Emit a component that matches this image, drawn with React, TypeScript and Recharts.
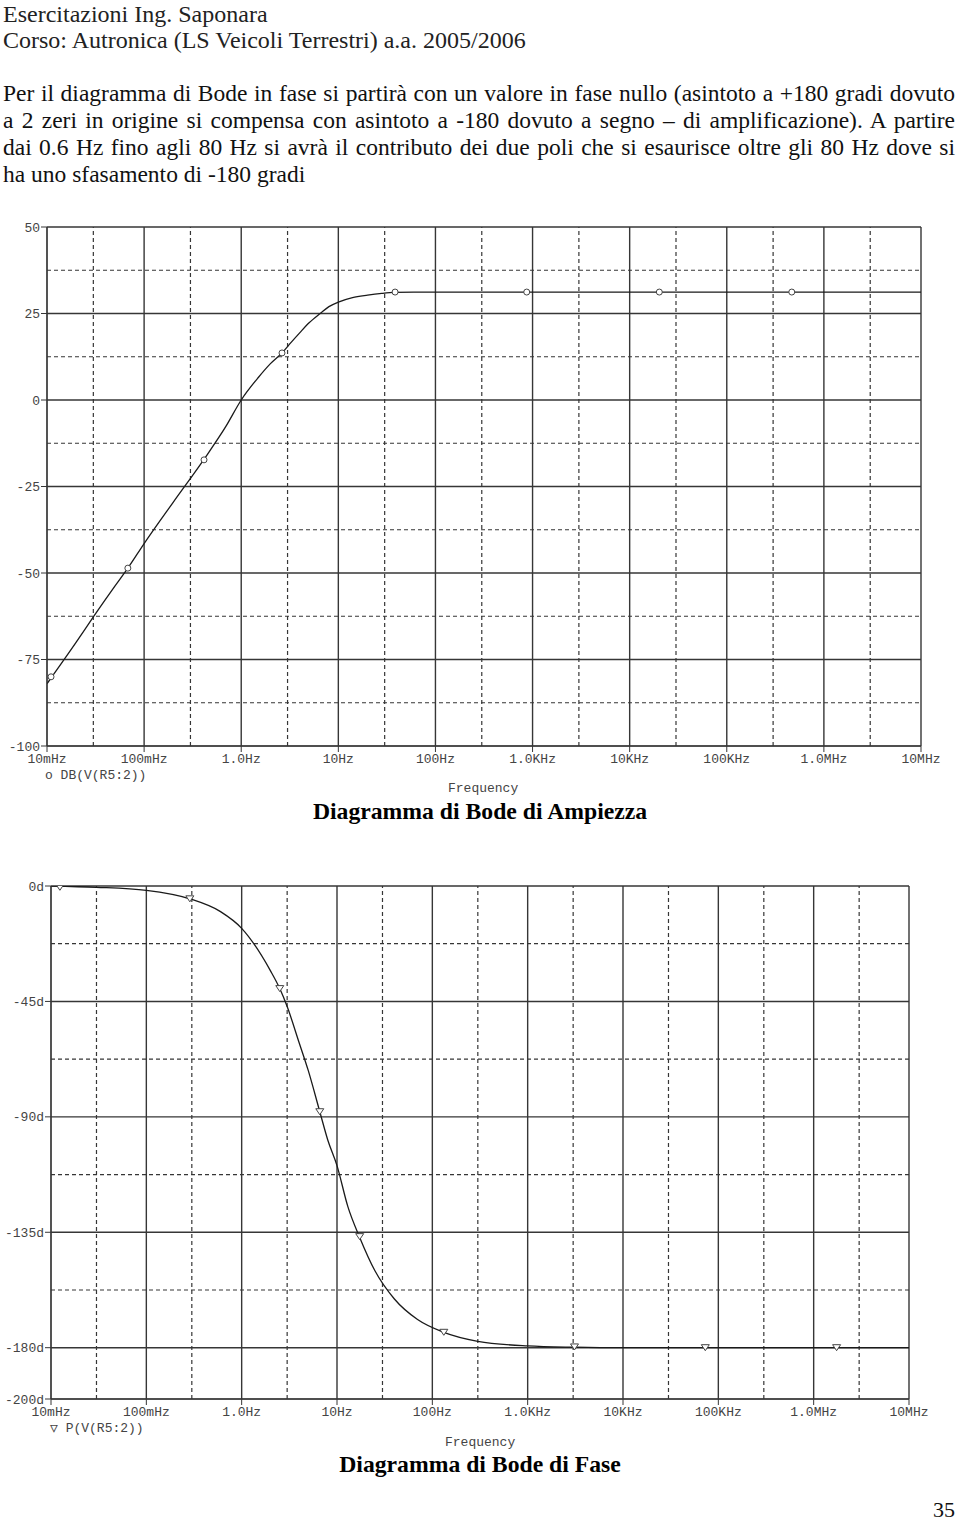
import { ComposedChart, Line, Scatter, XAxis, YAxis, ReferenceLine } from "recharts";

// frequency axis (shared by both plots)
const freqTicks = [0.01, 0.1, 1, 10, 100, 1e3, 1e4, 1e5, 1e6, 1e7];
const freqLabels = ["10mHz", "100mHz", "1.0Hz", "10Hz", "100Hz", "1.0KHz", "10KHz", "100KHz", "1.0MHz", "10MHz"];
const freqMinor = [0.03, 0.3, 3, 30, 300, 3e3, 3e4, 3e5, 3e6];

// magnitude trace DB(V(R5:2))
const magFreq = [0.01, 0.02, 0.03, 0.05, 0.068, 0.1, 0.2, 0.41, 0.7, 1, 1.5, 2, 2.63, 3.3, 4, 5, 6.5, 8, 10, 14, 20, 28, 38, 60, 100, 1e3, 1e4, 1e5, 1e6, 1e7];
const magDb = [-82, -70, -62.7, -53.8, -48.6, -41.5, -29.5, -17.3, -7.5, 0, 6.5, 10.5, 13.6, 16.8, 19.4, 22.3, 25, 27, 28.3, 29.6, 30.3, 30.8, 31.1, 31.2, 31.2, 31.2, 31.2, 31.2, 31.2, 31.2];
const magMarkFreq = [0.011, 0.068, 0.414, 2.63, 38.4, 871, 2.02e4, 4.67e5];
const magMarkDb = [-80, -48.6, -17.3, 13.6, 31.2, 31.2, 31.2, 31.2];
const magTicks = [50, 25, 0, -25, -50, -75, -100];
const magMinor = [37.5, 12.5, -12.5, -37.5, -62.5, -87.5];

// phase trace P(V(R5:2))
const phFreq = [0.01, 0.03, 0.1, 0.286, 0.6, 1, 2, 2.51, 3, 4, 5, 6.6, 8, 10, 13, 17.3, 25, 40, 70, 132, 300, 1000, 3100, 1e4, 1e5, 1e6, 1e7];
const phDeg = [0, -0.5, -1.7, -5, -10, -16.5, -33, -40, -47, -61, -72, -88, -99, -109, -125, -137, -150, -161, -169, -174, -177.5, -179.3, -179.8, -180, -180, -180, -180];
const phMarkFreq = [0.0124, 0.286, 2.51, 6.6, 17.3, 132, 3100, 7.3e4, 1.74e6];
const phMarkDeg = [-0.5, -5, -40, -88, -136.7, -174, -179.7, -180, -180];
const phTicks = [0, -45, -90, -135, -180, -200];
const phMinor = [-22.5, -67.5, -112.5, -157.5];

const MONO = "'Liberation Mono', 'DejaVu Sans Mono', monospace";
const SERIF = "'Liberation Serif', 'DejaVu Serif', serif";
const GRID = "#363636";

const zip = (f: number[], v: number[]) => f.map((x, i) => ({ f: x, v: v[i] }));

const Circle = (p: any) => (
  <circle cx={p.cx} cy={p.cy} r={3} fill="#fff" stroke="#444" strokeWidth={1} />
);

const Tri = (p: any) => (
  <path
    d={`M${p.cx - 4},${p.cy - 3}L${p.cx + 4},${p.cy - 3}L${p.cx},${p.cy + 3}Z`}
    fill="#fff"
    stroke="#444"
    strokeWidth={1}
  />
);

function BodePlot({ top, margin, yWidth, domain, ticks, minor, fmt, curve, marks, shape }: any) {
  return (
    <div style={{ position: "absolute", left: 0, top }}>
      <ComposedChart width={960} height={580} margin={margin}>
        <XAxis
          dataKey="f"
          type="number"
          scale="log"
          domain={[0.01, 1e7]}
          allowDataOverflow
          ticks={freqTicks}
          tickFormatter={(v: number) => freqLabels[freqTicks.indexOf(v)] ?? ""}
          tick={{ fontSize: 13, fill: "#444", fontFamily: MONO }}
          tickSize={6}
          tickMargin={2}
          height={30}
          stroke={GRID}
          interval={0}
        />
        <YAxis
          dataKey="v"
          type="number"
          domain={domain}
          allowDataOverflow
          ticks={ticks}
          tickFormatter={fmt}
          tick={{ fontSize: 13, fill: "#444", fontFamily: MONO }}
          tickSize={6}
          tickMargin={1}
          width={yWidth}
          stroke={GRID}
          interval={0}
        />
        {freqMinor.map((f) => (
          <ReferenceLine key={"vm" + f} x={f} stroke={GRID} strokeWidth={1.2} strokeDasharray="4 3" />
        ))}
        {minor.map((y: number) => (
          <ReferenceLine key={"hm" + y} y={y} stroke={GRID} strokeWidth={1.2} strokeDasharray="4 3" />
        ))}
        {freqTicks.map((f) => (
          <ReferenceLine key={"v" + f} x={f} stroke={GRID} strokeWidth={1.4} />
        ))}
        {ticks.map((y: number) => (
          <ReferenceLine key={"h" + y} y={y} stroke={GRID} strokeWidth={1.4} />
        ))}
        <Line
          data={curve}
          dataKey="v"
          type="monotone"
          stroke="#1a1a1a"
          strokeWidth={1.3}
          dot={false}
          isAnimationActive={false}
        />
        <Scatter data={marks} dataKey="v" shape={shape} isAnimationActive={false} />
      </ComposedChart>
    </div>
  );
}

const abs = (left: number, top: number, extra: any = {}) => ({
  position: "absolute" as const,
  left,
  top,
  whiteSpace: "nowrap" as const,
  ...extra,
});

const paraLines = [
  "Per il diagramma di Bode in fase si partirà con un valore in fase nullo (asintoto a +180 gradi dovuto",
  "a 2 zeri in origine si compensa con asintoto a -180 dovuto a segno \u2013 di amplificazione). A partire",
  "dai 0.6 Hz fino agli 80 Hz si avrà il contributo dei due poli che si esaurisce oltre gli 80 Hz dove si",
  "ha uno sfasamento di -180 gradi",
];

export default function App() {
  return (
    <div
      style={{
        position: "absolute",
        left: 0,
        top: 0,
        width: 960,
        height: 1524,
        background: "#fff",
        overflow: "hidden",
        fontFamily: SERIF,
        color: "#111",
      }}
    >
      <div style={abs(3, 1.5, { fontSize: 24, lineHeight: "24px", color: "#222" })}>
        Esercitazioni Ing. Saponara
      </div>
      <div style={abs(3, 28, { fontSize: 24, lineHeight: "24px", color: "#222" })}>
        Corso: Autronica (LS Veicoli Terrestri) a.a. 2005/2006
      </div>
      <div style={{ position: "absolute", left: 3, top: 80, width: 952, fontSize: 23.5, lineHeight: "26.9px" }}>
        {paraLines.map((l, i) => (
          <div
            key={i}
            style={{
              textAlign: "justify",
              textAlignLast: i < paraLines.length - 1 ? "justify" : "left",
              whiteSpace: "nowrap",
            }}
          >
            {l}
          </div>
        ))}
      </div>

      <BodePlot
        top={215}
        margin={{ top: 12, right: 39, bottom: 19, left: 7 }}
        yWidth={40}
        domain={[-100, 50]}
        ticks={magTicks}
        minor={magMinor}
        fmt={(v: number) => String(v)}
        curve={zip(magFreq, magDb)}
        marks={zip(magMarkFreq, magMarkDb)}
        shape={Circle}
      />
      <div style={abs(45, 768, { fontFamily: MONO, fontSize: 13, lineHeight: "15px", color: "#444" })}>o DB(V(R5:2))</div>
      <div style={abs(448, 781, { fontFamily: MONO, fontSize: 13, lineHeight: "15px", color: "#444" })}>Frequency</div>
      <div style={{ position: "absolute", left: 0, width: 960, top: 797, textAlign: "center", fontSize: 23.7, lineHeight: "28px", fontWeight: "bold", color: "#000" }}>
        Diagramma di Bode di Ampiezza
      </div>

      <BodePlot
        top={875}
        margin={{ top: 11, right: 51, bottom: 26, left: 7 }}
        yWidth={44}
        domain={[-200, 0]}
        ticks={phTicks}
        minor={phMinor}
        fmt={(v: number) => `${v}d`}
        curve={zip(phFreq, phDeg)}
        marks={zip(phMarkFreq, phMarkDeg)}
        shape={Tri}
      />
      <div style={abs(50, 1421, { fontFamily: MONO, fontSize: 13, lineHeight: "15px", color: "#444" })}>{"\u25BD P(V(R5:2))"}</div>
      <div style={abs(445, 1435, { fontFamily: MONO, fontSize: 13, lineHeight: "15px", color: "#444" })}>Frequency</div>
      <div style={{ position: "absolute", left: 0, width: 960, top: 1450, textAlign: "center", fontSize: 23.7, lineHeight: "28px", fontWeight: "bold", color: "#000" }}>
        Diagramma di Bode di Fase
      </div>

      <div style={abs(933, 1501, { fontSize: 22, lineHeight: "18px", color: "#111" })}>35</div>
    </div>
  );
}
